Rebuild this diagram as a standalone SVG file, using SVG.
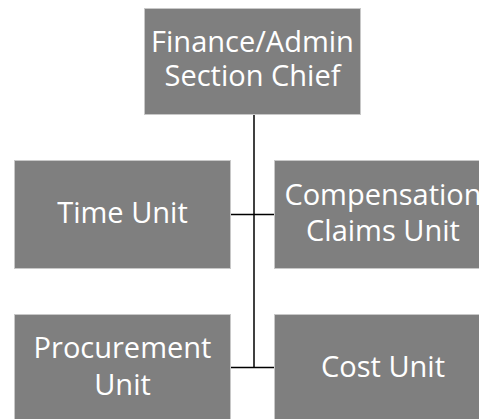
<svg xmlns="http://www.w3.org/2000/svg" width="479" height="419" viewBox="0 0 479 419">
<style>
.box{fill:#7f7f7f;stroke:#c8c8c8;stroke-width:1}
.lbl{font-family:"Open Sans","Noto Sans","DejaVu Sans",sans-serif;font-size:29px;fill:#ffffff;text-anchor:middle}
.conn{stroke:#000000;stroke-width:1.5;fill:none}
</style>
<rect width="479" height="419" fill="#ffffff"/>
<g id="connectors">
<path class="conn" d="M254 114 V367.5"/>
<path class="conn" d="M230 214.5 H274"/>
<path class="conn" d="M230 367.5 H274"/>
</g>
<g id="chief">
<rect class="box" x="144.5" y="8.5" width="216" height="106"/>
<text class="lbl" x="252.5" y="52">Finance/Admin</text>
<text class="lbl" x="252.5" y="86">Section Chief</text>
</g>
<g id="time">
<rect class="box" x="14.5" y="160.5" width="216" height="108"/>
<text class="lbl" x="122.5" y="223">Time Unit</text>
</g>
<g id="compensation">
<rect class="box" x="274.5" y="160.5" width="217" height="108"/>
<text class="lbl" x="383" y="205">Compensation</text>
<text class="lbl" x="383" y="241">Claims Unit</text>
</g>
<g id="procurement">
<rect class="box" x="14.5" y="314.5" width="216" height="108"/>
<text class="lbl" x="122.5" y="358">Procurement</text>
<text class="lbl" x="122.5" y="395">Unit</text>
</g>
<g id="cost">
<rect class="box" x="274.5" y="314.5" width="217" height="108"/>
<text class="lbl" x="383" y="377">Cost Unit</text>
</g>
</svg>
